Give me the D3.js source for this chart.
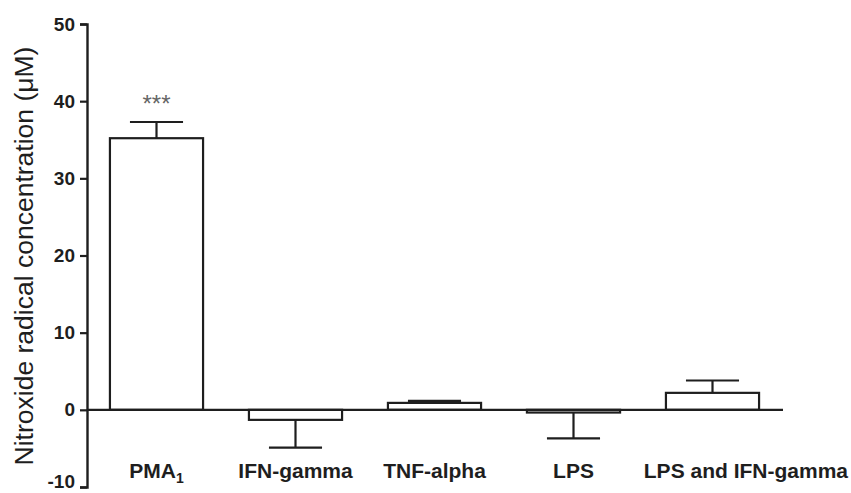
<!DOCTYPE html>
<html>
<head>
<meta charset="utf-8">
<script src="https://cdn.jsdelivr.net/npm/d3@7"></script>
<style>
  html, body { margin: 0; padding: 0; background: #ffffff; }
  svg { display: block; }
  text { font-family: "Liberation Sans", Arial, sans-serif; fill: #1e1e1e; }
</style>
</head>
<body>
<svg id="chart" width="851" height="493"></svg>
<script>
// Treatments, mean concentrations and error-bar ends (µM)
const categories = ["PMA", "IFN-gamma", "TNF-alpha", "LPS", "LPS and IFN-gamma"];
const subscripts = ["1", "", "", "", ""];
const means      = [35.2, -1.3, 0.9, -0.35, 2.2];
const errorEnds  = [37.3, -4.9, 1.15, -3.7, 3.8];
const marks      = ["***", "", "", "", ""];
const yTicks     = [-10, 0, 10, 20, 30, 40, 50];
const yLabel     = "Nitroxide radical concentration (\u03bcM)";

const W = 851, H = 493;
const svg = d3.select("#chart");
const ink = "#1e1e1e";

const y = d3.scaleLinear().domain([-10, 50]).range([487, 24]);
const x = d3.scaleBand().domain(categories).range([87, 782])
  .paddingInner(0.33).paddingOuter(0.165);

// Bars, drawn from the zero line
svg.append("g").selectAll("rect").data(categories).join("rect")
  .attr("x", d => x(d))
  .attr("width", x.bandwidth())
  .attr("y", (d, i) => y(Math.max(0, means[i])))
  .attr("height", (d, i) => Math.abs(y(means[i]) - y(0)))
  .attr("fill", "#ffffff")
  .attr("stroke", ink)
  .attr("stroke-width", 2.2);

// One-sided error bars
const capW = x.bandwidth() * 0.57;
const eb = svg.append("g").attr("stroke", ink).attr("stroke-width", 2.2);
categories.forEach((c, i) => {
  const cx = x(c) + x.bandwidth() / 2;
  eb.append("line").attr("x1", cx).attr("x2", cx)
    .attr("y1", y(means[i])).attr("y2", y(errorEnds[i]));
  eb.append("line").attr("x1", cx - capW / 2).attr("x2", cx + capW / 2)
    .attr("y1", y(errorEnds[i])).attr("y2", y(errorEnds[i]));
});

// Zero baseline across the plot
svg.append("line")
  .attr("x1", 87).attr("x2", 783)
  .attr("y1", y(0)).attr("y2", y(0))
  .attr("stroke", ink).attr("stroke-width", 2.2);

// Significance marks
svg.append("g").selectAll("text").data(categories).join("text")
  .attr("x", d => x(d) + x.bandwidth() / 2)
  .attr("y", (d, i) => y(errorEnds[i]) - 10)
  .attr("text-anchor", "middle")
  .attr("font-size", 24)
  .style("fill", "#666")
  .text((d, i) => marks[i]);

// Y axis
const yAxis = svg.append("g").attr("transform", "translate(87,0)")
  .call(d3.axisLeft(y).tickValues(yTicks).tickSize(7).tickPadding(5)
    .tickFormat(d => String(d)));
yAxis.select(".domain").attr("stroke", ink).attr("stroke-width", 2.4);
yAxis.selectAll(".tick line").attr("stroke", ink).attr("stroke-width", 2.2);
yAxis.selectAll(".tick text")
  .attr("font-size", 19).attr("font-weight", "bold")
  .attr("font-family", "'Liberation Sans', Arial, sans-serif")
  .style("fill", ink);
// keep the lowest tick label inside the frame
yAxis.selectAll(".tick text").each(function() {
  const bb = this.getBBox();
  const t = d3.select(this.parentNode).attr("transform");
  const ty = +t.match(/,\s*([-\d.]+)/)[1];
  const over = ty + bb.y + bb.height - (H - 1);
  if (over > 0) d3.select(this).attr("y", -over);
});

// Category labels; a label too wide for its slot is pushed to the right edge
const lab = svg.append("g").selectAll("text").data(categories).join("text")
  .attr("x", d => x(d) + x.bandwidth() / 2)
  .attr("y", 478)
  .attr("text-anchor", "middle")
  .attr("font-size", 21)
  .attr("font-weight", "bold");
lab.append("tspan").text(d => d);
lab.append("tspan")
  .attr("font-size", 14)
  .attr("dy", 5)
  .text((d, i) => subscripts[i]);
lab.each(function(d) {
  const bb = this.getBBox();
  if (bb.width > x.step() * 1.3) {
    d3.select(this).attr("text-anchor", "end").attr("x", W - 3);
  }
});

// Y axis title
svg.append("text")
  .attr("transform", "translate(33,256) rotate(-90)")
  .attr("text-anchor", "middle")
  .attr("font-size", 26.5)
  .text(yLabel);
</script>
</body>
</html>
